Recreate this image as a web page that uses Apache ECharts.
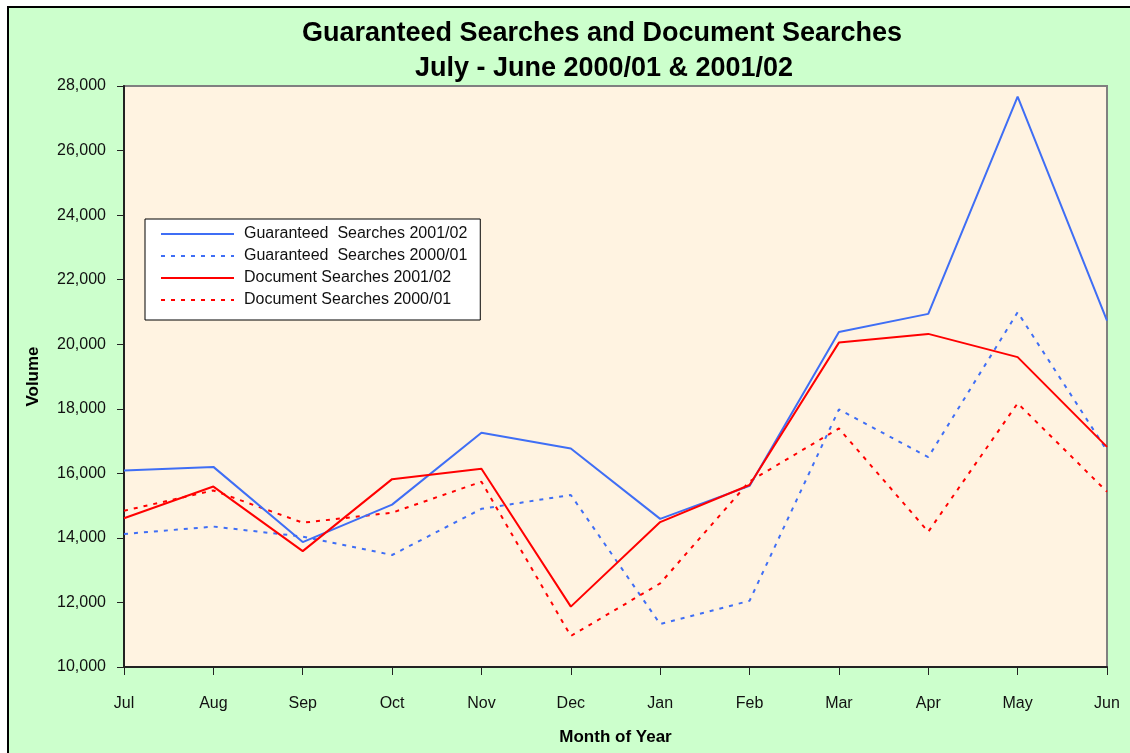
<!DOCTYPE html>
<html>
<head>
<meta charset="utf-8">
<script src="https://cdn.jsdelivr.net/npm/echarts@6/dist/echarts.min.js"></script>
<style>
html,body{margin:0;padding:0;background:#ffffff;}
#chart{width:1130px;height:753px;}
</style>
</head>
<body>
<div id="chart"></div>
<script>
const months = ['Jul','Aug','Sep','Oct','Nov','Dec','Jan','Feb','Mar','Apr','May','Jun'];
const guaranteed0102 = [16090,16200,13870,15030,17260,16770,14590,15610,20380,20940,27670,20730];
const guaranteed0001 = [14120,14350,14040,13470,14900,15330,11330,12050,17980,16500,20990,16700];
const document0102  = [14610,15590,13590,15820,16140,11870,14490,15640,20050,20320,19600,16820];
const document0001  = [14840,15470,14470,14780,15740,10960,12590,15750,17390,14190,18170,15430];
const seriesNames = ['Guaranteed  Searches 2001/02','Guaranteed  Searches 2000/01','Document Searches 2001/02','Document Searches 2000/01'];
const titleLines = ['Guaranteed Searches and Document Searches', 'July - June 2000/01 & 2001/02'];

const FONT = '"Liberation Sans", Arial, sans-serif';
const BLUE = '#3F6EF5';
const RED = '#FF0000';

const chart = echarts.init(document.getElementById('chart'));
function mk(name, data, color, dashed) {
  return {
    name: name, type: 'line', data: data, symbol: 'none',
    lineStyle: { color: color, width: 2, type: dashed ? [4, 6] : 'solid' },
    itemStyle: { color: color },
    z: dashed ? 2 : 3,
    animation: false
  };
}
chart.setOption({
  backgroundColor: '#ffffff',
  animation: false,
  graphic: [
    { type: 'rect', shape: { x: 8, y: 7, width: 1140, height: 760 },
      style: { fill: '#CCFFCC', stroke: '#000', lineWidth: 2 }, z: -10 },
    { type: 'text', z: 10,
      style: { text: titleLines[0], x: 602, y: 34, textAlign: 'center', textVerticalAlign: 'middle',
        font: 'bold 27px ' + FONT, fill: '#000' } },
    { type: 'text', z: 10,
      style: { text: titleLines[1], x: 604, y: 69, textAlign: 'center', textVerticalAlign: 'middle',
        font: 'bold 27px ' + FONT, fill: '#000' } }
  ],
  grid: { left: 124, right: 23, top: 86, bottom: 86, show: true,
    backgroundColor: '#FFF3E1', borderColor: '#808080', borderWidth: 2 },
  legend: {
    orient: 'vertical', left: 145, top: 219,
    backgroundColor: '#ffffff', borderColor: '#000', borderWidth: 1, borderRadius: 0,
    padding: [7, 13, 12, 15], itemWidth: 73, itemHeight: 14, itemGap: 6,
    itemStyle: { opacity: 0 },
    textStyle: { fontFamily: FONT, fontSize: 16, color: '#111', padding: [0, 0, 0, 5] },
    data: seriesNames
  },
  xAxis: {
    type: 'category', data: months, boundaryGap: false,
    name: 'Month of Year', nameLocation: 'middle', nameGap: 62,
    nameTextStyle: { fontFamily: FONT, fontSize: 17, fontWeight: 'bold', color: '#000' },
    axisLine: { lineStyle: { color: '#222', width: 2 } },
    axisTick: { show: true, length: 8, alignWithLabel: true, lineStyle: { color: '#222', width: 1 } },
    axisLabel: { fontFamily: FONT, fontSize: 16, color: '#111', margin: 29, interval: 0 },
    splitLine: { show: false }
  },
  yAxis: {
    type: 'value', min: 10000, max: 28000, interval: 2000,
    name: 'Volume', nameLocation: 'middle', nameGap: 82, nameRotate: 90,
    nameTextStyle: { fontFamily: FONT, fontSize: 17, fontWeight: 'bold', color: '#000' },
    axisLine: { show: true, lineStyle: { color: '#222', width: 2 } },
    axisTick: { show: true, length: 7, lineStyle: { color: '#222', width: 1 } },
    axisLabel: { fontFamily: FONT, fontSize: 16, color: '#111', margin: 18,
      formatter: v => v.toLocaleString('en-US') },
    splitLine: { show: false }
  },
  series: [
    mk(seriesNames[0], guaranteed0102, BLUE, false),
    mk(seriesNames[1], guaranteed0001, BLUE, true),
    mk(seriesNames[2], document0102, RED, false),
    mk(seriesNames[3], document0001, RED, true)
  ]
});
</script>
</body>
</html>
